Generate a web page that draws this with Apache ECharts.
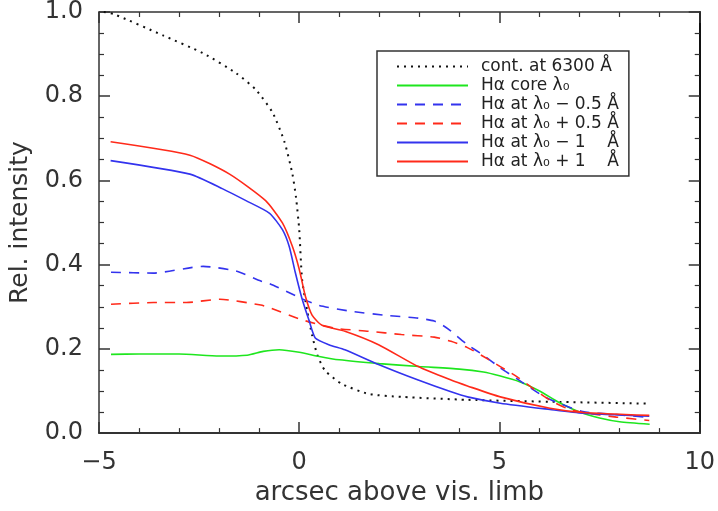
<!DOCTYPE html>
<html>
<head>
<meta charset="utf-8">
<script src="https://cdn.jsdelivr.net/npm/echarts@6/dist/echarts.min.js"></script>
<style>
  html, body { margin: 0; padding: 0; background: #fff; }
  #chart { width: 718px; height: 511px; }
</style>
</head>
<body>
<div id="chart"></div>
<script>
// data, x = arcsec above visible limb
let contX = [-4.88, -4.63, -3.39, -2.4, -1.58, -1.09, -0.67, -0.37, -0.17, -0.08, 0.0, 0.07, 0.2, 0.32, 0.45, 0.64, 1.06, 1.73, 2.55, 4.2, 6.5, 8.75]
let contY = [1.0, 0.995, 0.944, 0.902, 0.855, 0.816, 0.762, 0.692, 0.615, 0.559, 0.483, 0.366, 0.289, 0.233, 0.186, 0.149, 0.117, 0.093, 0.086, 0.079, 0.074, 0.07]

let coreX = [-4.7, -4, -3, -2, -1.3, -0.9, -0.5, 0, 0.5, 1, 2, 3, 4, 4.6, 5, 5.5, 6, 6.5, 7, 7.5, 8, 8.75]
let coreY = [0.187, 0.188, 0.188, 0.183, 0.185, 0.194, 0.198, 0.192, 0.182, 0.174, 0.165, 0.158, 0.152, 0.145, 0.136, 0.122, 0.1, 0.072, 0.05, 0.036, 0.027, 0.021]

let blueDashX = [-4.7, -3.64, -2.4, -1.58, -0.96, -0.74, 0.07, 0.5, 1.31, 2.13, 2.97, 3.37, 3.6, 3.79, 4.2, 4.6, 5.02, 5.45, 6.09, 6.51, 7.08, 7.92, 8.74]
let blueDashY = [0.382, 0.38, 0.396, 0.385, 0.361, 0.355, 0.319, 0.303, 0.289, 0.28, 0.273, 0.266, 0.255, 0.242, 0.21, 0.185, 0.155, 0.128, 0.088, 0.07, 0.051, 0.044, 0.037]

let redDashX = [-4.7, -3.64, -2.82, -1.98, -0.96, -0.74, 0.07, 0.89, 1.73, 2.55, 3.37, 3.79, 4.2, 4.6, 5.02, 5.45, 5.85, 6.26, 6.7, 7.08, 7.92, 8.74]
let redDashY = [0.306, 0.31, 0.31, 0.318, 0.304, 0.298, 0.269, 0.249, 0.242, 0.234, 0.228, 0.218, 0.203, 0.182, 0.158, 0.133, 0.105, 0.078, 0.058, 0.049, 0.038, 0.03]

let blueX = [-4.71, -2.73, -1.91, -1.33, -0.74, -0.42, -0.25, -0.1, 0.07, 0.25, 0.4, 0.74, 1.14, 1.98, 2.97, 3.79, 4.2, 5.02, 6.26, 7.08, 8.74]
let blueY = [0.647, 0.615, 0.58, 0.552, 0.522, 0.483, 0.443, 0.382, 0.319, 0.266, 0.226, 0.21, 0.198, 0.163, 0.126, 0.098, 0.086, 0.071, 0.056, 0.047, 0.04]

let redX = [-4.71, -2.73, -1.74, -0.84, -0.42, -0.17, 0.0, 0.15, 0.32, 0.57, 1.14, 1.98, 2.97, 3.79, 4.2, 5.02, 6.26, 7.08, 8.74]
let redY = [0.692, 0.66, 0.615, 0.552, 0.499, 0.443, 0.389, 0.326, 0.28, 0.256, 0.242, 0.21, 0.158, 0.126, 0.112, 0.086, 0.059, 0.049, 0.042]

let names = [
  'cont. at 6300 Å',
  'Hα core λ₀',
  'Hα at λ₀ − 0.5 Å',
  'Hα at λ₀ + 0.5 Å',
  'Hα at λ₀ − 1    Å',
  'Hα at λ₀ + 1    Å'
]

let pairs = (xs, ys) => xs.map((x, i) => [x, ys[i]])

let font = 'DejaVu Sans'
let ink = '#333'

let myChart = echarts.init(document.getElementById('chart'))

let line = (name, xs, ys, color, type, width) => ({
  name: name,
  type: 'line',
  data: pairs(xs, ys),
  smooth: 0.2,
  symbol: 'none',
  lineStyle: { color: color, type: type, width: width },
  itemStyle: { color: color },
  z: 3
})

// box axes: ticks on all four sides, labels only bottom/left
let tickStyle = {
  axisTick: { show: true, inside: true, length: 11, lineStyle: { color: ink, width: 1.5 } },
  splitLine: { show: false }
}

let option = {
  animation: false,
  backgroundColor: '#fff',
  grid: { left: 95, right: 17, top: 8, bottom: 74 },
  legend: {
    orient: 'vertical',
    left: 377,
    top: 51,
    padding: [7, 10, 6, 19],
    itemGap: 2,
    itemWidth: 71,
    itemHeight: 15,
    borderColor: '#333',
    borderWidth: 1.5,
    borderRadius: 0,
    // hide the symbol dot, keep the line sample
    itemStyle: { color: 'rgba(0,0,0,0)', borderWidth: 0 },
    textStyle: { fontFamily: font, fontSize: 17, lineHeight: 15.6, color: '#222', padding: [0, 0, 0, 8] },
    data: names
  },
  xAxis: [{
    type: 'value',
    min: -5, max: 10, interval: 5,
    name: 'arcsec above vis. limb',
    nameLocation: 'middle',
    nameGap: 45,
    nameTextStyle: { fontFamily: font, fontSize: 26, color: ink },
    axisLine: { show: true, onZero: false, lineStyle: { color: ink, width: 2 } },
    ...tickStyle,
    minorTick: { show: true, splitNumber: 5, length: 5, lineStyle: { color: ink, width: 1.2 } },
    axisLabel: {
      margin: 18, fontFamily: font, fontSize: 24, color: ink,
      formatter: v => String(v).replace('-', '−')
    }
  }, {
    type: 'value',
    position: 'top',
    min: -5, max: 10, interval: 5,
    axisLine: { show: true, onZero: false, lineStyle: { color: ink, width: 1.5 } },
    ...tickStyle,
    minorTick: { show: true, splitNumber: 5, length: 5, lineStyle: { color: ink, width: 1.2 } },
    axisLabel: { show: false }
  }],
  yAxis: [{
    type: 'value',
    min: 0, max: 1, interval: 0.2,
    name: 'Rel. intensity',
    nameLocation: 'middle',
    nameGap: 66,
    nameTextStyle: { fontFamily: font, fontSize: 25, color: ink },
    axisLine: { show: true, onZero: false, lineStyle: { color: ink, width: 1.5 } },
    ...tickStyle,
    minorTick: { show: true, splitNumber: 4, length: 5, lineStyle: { color: ink, width: 1.2 } },
    axisLabel: {
      margin: 16, fontFamily: font, fontSize: 24, color: ink,
      formatter: v => v.toFixed(1)
    }
  }, {
    type: 'value',
    position: 'right',
    min: 0, max: 1, interval: 0.2,
    axisLine: { show: true, onZero: false, lineStyle: { color: '#111', width: 2 } },
    ...tickStyle,
    minorTick: { show: true, splitNumber: 4, length: 5, lineStyle: { color: ink, width: 1.2 } },
    axisLabel: { show: false }
  }],
  series: [
    line(names[0], contX, contY, '#111', [2, 5], 2),
    line(names[1], coreX, coreY, '#1ee61e', 'solid', 1.6),
    line(names[2], blueDashX, blueDashY, '#3333ee', [10, 8], 1.6),
    line(names[3], redDashX, redDashY, '#ff2a1a', [10, 8], 1.6),
    line(names[4], blueX, blueY, '#3333ee', 'solid', 1.6),
    line(names[5], redX, redY, '#ff2a1a', 'solid', 1.6)
  ]
}
myChart.setOption(option)
</script>
</body>
</html>
